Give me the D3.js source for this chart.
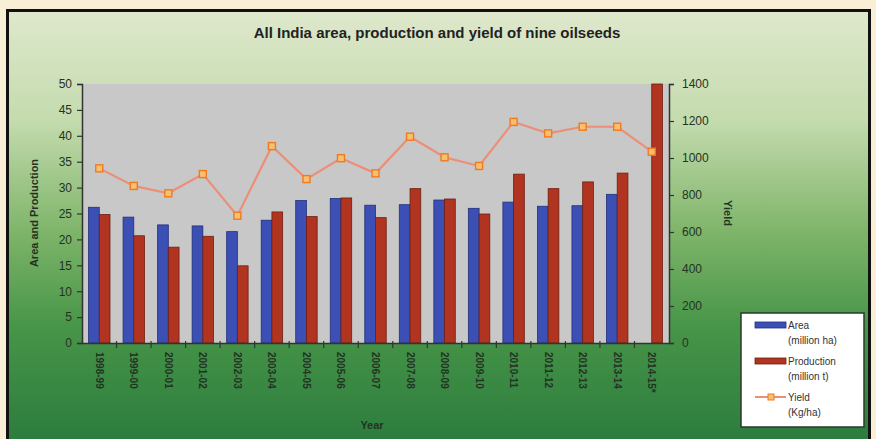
<!DOCTYPE html>
<html><head><meta charset="utf-8">
<script src="https://cdn.jsdelivr.net/npm/d3@7/dist/d3.min.js"></script>
<style>body{margin:0;background:#f8efd6;}svg{display:block;}</style>
</head><body>
<svg id="c" width="876" height="439"></svg>
<script>
const years = ["1998-99","1999-00","2000-01","2001-02","2002-03","2003-04","2004-05","2005-06","2006-07","2007-08","2008-09","2009-10","2010-11","2011-12","2012-13","2013-14","2014-15*"];
const area = [26.2,24.3,22.8,22.6,21.5,23.7,27.5,27.9,26.6,26.7,27.6,26.0,27.2,26.4,26.5,28.7,null];
const production = [24.8,20.7,18.5,20.6,14.9,25.3,24.4,28.0,24.2,29.8,27.8,24.9,32.6,29.8,31.1,32.8,50];
const yieldKg = [944,849,809,913,688,1064,886,999,917,1115,1004,957,1195,1133,1169,1169,1034];
const leftTicks = [0,5,10,15,20,25,30,35,40,45,50];
const rightTicks = [0,200,400,600,800,1000,1200,1400];
const seriesNames = ["Area","Production"];

const svg = d3.select("#c");
const defs = svg.append("defs");
const g1 = defs.append("linearGradient").attr("id","bg").attr("x1",0).attr("y1",0).attr("x2",0).attr("y2",1);
[[0,"#dfe8cc"],[0.25,"#c4dbae"],[0.5,"#7fb56a"],[0.72,"#479548"],[1,"#2a7a3d"]].forEach(s=>g1.append("stop").attr("offset",s[0]).attr("stop-color",s[1]));

svg.append("rect").attr("x",7.5).attr("y",10.5).attr("width",862).attr("height",440).attr("fill","url(#bg)").attr("stroke","#111").attr("stroke-width",3);

const L=82, R=669, T=84, B=343;
const x = d3.scaleBand().domain(years).range([L,R]).padding(0);
const xs = d3.scaleBand().domain(seriesNames).range([0,x.bandwidth()]).paddingInner(0).paddingOuter(0.61);
const yL = d3.scaleLinear().domain([0,50]).range([B,T]);
const yR = d3.scaleLinear().domain([0,1400]).range([B,T]);

svg.append("rect").attr("x",L).attr("y",T).attr("width",R-L).attr("height",B-T).attr("fill","#c8c8c8");

const data = years.map((y,i)=>({year:y, vals:[{k:"Area",v:area[i]},{k:"Production",v:production[i]}]}));
const colors = {Area:"#3b4fb4",Production:"#b0341f"};
const strokes = {Area:"#22307a",Production:"#6e1f12"};
const grp = svg.append("g").selectAll("g").data(data).join("g").attr("transform",d=>`translate(${x(d.year)},0)`);
grp.selectAll("rect").data(d=>d.vals.filter(v=>v.v!=null)).join("rect")
  .attr("x",d=>xs(d.k)).attr("width",xs.bandwidth())
  .attr("y",d=>yL(Math.min(d.v,50))).attr("height",d=>B-yL(Math.min(d.v,50)))
  .attr("fill",d=>colors[d.k]).attr("stroke",d=>strokes[d.k]).attr("stroke-width",0.8);

const line = d3.line().x((d,i)=>x(years[i])+x.bandwidth()/2).y(d=>yR(d));
svg.append("path").datum(yieldKg).attr("d",line).attr("fill","none").attr("stroke","#ec8f78").attr("stroke-width",2.2);
svg.append("g").selectAll("rect").data(yieldKg).join("rect")
  .attr("x",(d,i)=>x(years[i])+x.bandwidth()/2-3.5).attr("y",d=>yR(d)-3.5).attr("width",7).attr("height",7)
  .attr("fill","#f7c070").attr("stroke","#f07a20").attr("stroke-width",1.4);

const font = "Liberation Sans, Arial, sans-serif";
const axL = svg.append("g").attr("transform",`translate(${L},0)`).call(d3.axisLeft(yL).tickValues(leftTicks).tickSize(5).tickPadding(5));
const axR = svg.append("g").attr("transform",`translate(${R},0)`).call(d3.axisRight(yR).tickValues(rightTicks).tickFormat(d3.format("d")).tickSize(5).tickPadding(8));
const axB = svg.append("g").attr("transform",`translate(0,${B})`).call(d3.axisBottom(x).tickSize(0).tickPadding(0));
[axL,axR,axB].forEach(a=>{a.select(".domain").attr("stroke","#333").attr("stroke-width",1.5);a.selectAll(".tick line").attr("stroke","#333").attr("stroke-width",1.2);
  a.selectAll("text").attr("fill","#243224").style("font-family",font);});
axL.selectAll("text").style("font-size","12px");
axR.selectAll("text").style("font-size","12px");
axB.selectAll(".tick text").style("font-size","10px").style("font-weight","bold")
  .attr("transform","rotate(90)").attr("text-anchor","start").attr("x",9).attr("y",0).attr("dy","0.35em");
svg.append("g").selectAll("line").data(years.slice(1)).join("line")
  .attr("x1",d=>x(d)).attr("x2",d=>x(d)).attr("y1",B-2).attr("y2",B+5).attr("stroke","#333").attr("stroke-width",1.2);

svg.append("text").attr("x",437).attr("y",38).attr("text-anchor","middle").style("font-family",font).style("font-weight","bold").style("font-size","15px").attr("fill","#222")
  .text("All India area, production and yield of nine oilseeds");
svg.append("text").attr("transform","translate(38,213) rotate(-90)").attr("text-anchor","middle").style("font-family",font).style("font-weight","bold").style("font-size","11px").attr("fill","#243224").text("Area and Production");
svg.append("text").attr("transform","translate(724,213) rotate(90)").attr("text-anchor","middle").style("font-family",font).style("font-weight","bold").style("font-size","11px").attr("fill","#243224").text("Yield");
svg.append("text").attr("x",372).attr("y",429).attr("text-anchor","middle").style("font-family",font).style("font-weight","bold").style("font-size","11px").attr("fill","#243224").text("Year");

const lg = svg.append("g").attr("transform","translate(741,313)");
lg.append("rect").attr("width",123).attr("height",114).attr("fill","#fff").attr("stroke","#2a3a2a").attr("stroke-width",1.5);
const legItems = [{label:["Area","(million ha)"],type:"bar",c:colors.Area,s:strokes.Area},{label:["Production","(million t)"],type:"bar",c:colors.Production,s:strokes.Production},{label:["Yield","(Kg/ha)"],type:"line"}];
legItems.forEach((it,i)=>{
  const gy = 12 + i*36;
  if(it.type==="bar") lg.append("rect").attr("x",14).attr("y",gy-3).attr("width",31).attr("height",6).attr("fill",it.c).attr("stroke",it.s).attr("stroke-width",0.8);
  else { lg.append("line").attr("x1",14).attr("x2",45).attr("y1",gy).attr("y2",gy).attr("stroke","#ec8f78").attr("stroke-width",2);
    lg.append("rect").attr("x",27).attr("y",gy-3).attr("width",6).attr("height",6).attr("fill","#f7c070").attr("stroke","#f07a20"); }
  it.label.forEach((t,j)=>lg.append("text").attr("x",47).attr("y",gy+4+j*15).style("font-family",font).style("font-size","10px").attr("fill","#333").text(t));
});
</script>
</body></html>
